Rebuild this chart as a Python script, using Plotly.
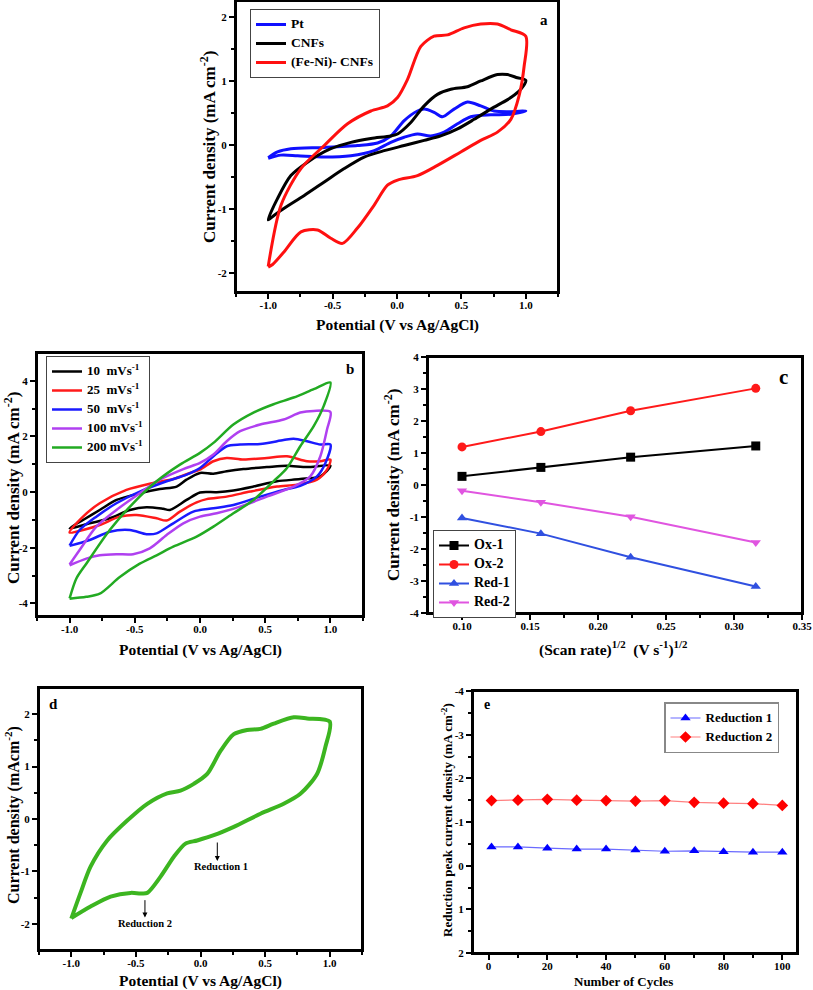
import plotly.graph_objects as go

W, H = 813, 990

# ---------------- panel a : CV of Pt, CNFs, (Fe-Ni)-CNFs ----------------
a_pt_v = [-1.0, -0.928, -0.824, -0.565, -0.307, -0.151, -0.048, 0.056, 0.159, 0.211, 0.288, 0.353, 0.443,
          0.547, 0.65, 0.754, 0.884, 1.0,
          0.884, 0.728, 0.573, 0.47, 0.366, 0.262, 0.159, 0.056, -0.048, -0.177, -0.358, -0.565, -0.772,
          -0.902, -1.0]
a_pt_j = [-0.2, -0.11, -0.06, -0.04, -0.01, 0.03, 0.14, 0.38, 0.53, 0.56, 0.51, 0.44, 0.56,
          0.67, 0.61, 0.53, 0.52, 0.53,
          0.48, 0.47, 0.44, 0.33, 0.2, 0.14, 0.17, 0.12, 0.04, -0.09, -0.17, -0.19, -0.17,
          -0.16, -0.21]
a_cnf_v = [-1.0, -0.928, -0.824, -0.695, -0.514, -0.358, -0.203, -0.048, 0.004, 0.107, 0.211, 0.314, 0.418,
           0.547, 0.65, 0.78, 0.857, 0.935, 1.0,
           0.961, 0.884, 0.728, 0.599, 0.47, 0.34, 0.211, 0.056, -0.1, -0.255, -0.41, -0.565, -0.72,
           -0.876, -0.953, -1.0]
a_cnf_j = [-1.17, -0.84, -0.48, -0.27, -0.06, 0.04, 0.1, 0.14, 0.17, 0.35, 0.61, 0.79, 0.87,
           0.91, 1.0, 1.1, 1.1, 1.05, 1.01,
           0.87, 0.74, 0.56, 0.4, 0.25, 0.14, 0.07, -0.01, -0.09, -0.19, -0.37, -0.58, -0.79,
           -0.99, -1.1, -1.17]
a_feni_v = [-1.0, -0.9, -0.746, -0.565, -0.384, -0.203, -0.074, 0.004, 0.081, 0.185, 0.288, 0.392, 0.521,
            0.65, 0.78, 0.884, 1.0,
            0.987, 0.948, 0.884, 0.78, 0.65, 0.495, 0.314, 0.159, 0.004, -0.074, -0.177, -0.307, -0.423,
            -0.514, -0.617, -0.746, -0.876, -0.966, -1.0]
a_feni_j = [-1.9, -0.94, -0.37, -0.01, 0.33, 0.53, 0.61, 0.74, 1.02, 1.54, 1.7, 1.72, 1.83,
            1.89, 1.89, 1.8, 1.7,
            1.23, 0.77, 0.4, 0.2, 0.07, -0.11, -0.32, -0.48, -0.55, -0.63, -0.94, -1.3, -1.54,
            -1.46, -1.33, -1.36, -1.67, -1.87, -1.91]
a_names = ["Pt", "CNFs", "(Fe-Ni)- CNFs"]

# ---------------- panel b : scan rates ----------------
b_names = ["10  mVs<sup>-1</sup>", "25  mVs<sup>-1</sup>", "50  mVs<sup>-1</sup>",
           "100 mVs<sup>-1</sup>", "200 mVs<sup>-1</sup>"]
b10_v = [-1.0, -0.897, -0.769, -0.64, -0.462, -0.308, -0.179, -0.103, 0.0, 0.103, 0.205, 0.333, 0.513, 0.667,
         0.821, 1.0,
         0.923, 0.769, 0.59, 0.41, 0.256, 0.128, 0.0, -0.103, -0.231, -0.282, -0.41, -0.538, -0.692, -0.846, -1.0]
b10_j = [-1.3, -1.0, -0.64, -0.28, -0.04, 0.11, 0.2, 0.45, 0.69, 0.66, 0.75, 0.83, 0.9, 0.95,
         0.9, 0.95,
         0.57, 0.47, 0.39, 0.2, 0.06, 0.0, -0.01, -0.28, -0.64, -0.6, -0.54, -0.64, -0.94, -1.12, -1.3]
b25_v = [-1.0, -0.897, -0.769, -0.564, -0.359, -0.205, -0.077, 0.0, 0.103, 0.205, 0.333, 0.513, 0.667, 0.821,
         0.923, 1.0,
         0.974, 0.897, 0.744, 0.59, 0.385, 0.205, 0.051, -0.026, -0.154, -0.256, -0.333, -0.487, -0.615,
         -0.769, -0.897, -1.0]
b25_j = [-1.45, -0.88, -0.4, 0.08, 0.33, 0.47, 0.69, 0.81, 1.11, 1.23, 1.17, 1.23, 1.29, 1.11,
         1.11, 1.17,
         0.81, 0.45, 0.27, 0.2, 0.02, -0.16, -0.25, -0.37, -0.7, -1.02, -0.94, -0.82, -0.88,
         -1.18, -1.36, -1.45]
b50_v = [-1.0, -0.923, -0.795, -0.641, -0.462, -0.256, -0.103, 0.0, 0.103, 0.205, 0.308, 0.462, 0.641, 0.718,
         0.821, 0.923, 1.0,
         0.962, 0.897, 0.769, 0.641, 0.462, 0.256, 0.103, -0.051, -0.205, -0.333, -0.41, -0.538, -0.692,
         -0.846, -1.0]
b50_j = [-1.92, -1.36, -0.88, -0.4, 0.02, 0.39, 0.63, 0.87, 1.29, 1.65, 1.71, 1.73, 1.87, 1.92,
         1.83, 1.71, 1.71,
         1.05, 0.57, 0.23, 0.08, -0.16, -0.46, -0.58, -0.7, -1.12, -1.48, -1.51, -1.36, -1.42,
         -1.72, -1.93]
b100_v = [-1.0, -0.923, -0.795, -0.641, -0.462, -0.308, -0.128, 0.0, 0.103, 0.205, 0.308, 0.462, 0.641, 0.769,
          0.872, 1.0,
          0.974, 0.923, 0.846, 0.718, 0.513, 0.308, 0.128, 0.0, -0.128, -0.256, -0.385, -0.513, -0.641,
          -0.769, -0.872, -1.0]
b100_j = [-2.6, -2.08, -1.24, -0.64, -0.04, 0.45, 0.83, 1.05, 1.35, 1.83, 2.19, 2.43, 2.61, 2.86,
          2.92, 2.88,
          2.25, 1.29, 0.57, 0.2, -0.16, -0.52, -0.76, -0.88, -1.12, -1.54, -2.02, -2.23, -2.23,
          -2.27, -2.39, -2.63]
b200_v = [-1.0, -0.949, -0.872, -0.692, -0.513, -0.333, -0.154, 0.0, 0.103, 0.256, 0.41, 0.564, 0.718,
          0.872, 1.0,
          0.949, 0.872, 0.769, 0.667, 0.564, 0.41, 0.256, 0.103, -0.026, -0.205, -0.333, -0.462, -0.615,
          -0.769, -0.872, -1.0]
b200_j = [-3.82, -3.11, -2.57, -1.36, -0.4, 0.39, 0.99, 1.41, 1.77, 2.43, 2.86, 3.16, 3.4,
          3.7, 3.94,
          3.1, 2.37, 1.65, 0.87, 0.39, -0.28, -0.76, -1.24, -1.6, -1.96, -2.27, -2.57, -3.05,
          -3.65, -3.76, -3.83]

# ---------------- panel c : peak current vs sqrt(scan rate) ----------------
c_sqrt_rate = [0.1, 0.158, 0.224, 0.316]
c_ox1 = [0.27, 0.55, 0.87, 1.22]
c_ox2 = [1.19, 1.67, 2.32, 3.02]
c_red1 = [-1.03, -1.52, -2.26, -3.17]
c_red2 = [-0.18, -0.54, -0.99, -1.8]

# ---------------- panel d : repeated cycling ----------------
d_v = [-1.0, -0.93, -0.851, -0.722, -0.567, -0.412, -0.258, -0.155, -0.052, 0.052, 0.155, 0.258, 0.361,
       0.464, 0.567, 0.722, 0.825, 1.0,
       0.966, 0.902, 0.773, 0.644, 0.464, 0.258, 0.103, -0.026, -0.116, -0.206, -0.309, -0.412, -0.464,
       -0.541, -0.696, -0.851, -1.0]
d_j = [-1.9, -1.42, -0.91, -0.41, -0.03, 0.29, 0.49, 0.54, 0.67, 0.86, 1.3, 1.62, 1.7,
       1.72, 1.82, 1.94, 1.92, 1.86,
       1.37, 0.86, 0.48, 0.29, 0.1, -0.15, -0.31, -0.41, -0.47, -0.72, -1.1, -1.41, -1.42,
       -1.41, -1.48, -1.67, -1.89]

# ---------------- panel e : peak current vs cycle number ----------------
e_cycles = [1, 10, 20, 30, 40, 50, 60, 70, 80, 90, 100]
e_red1 = [-0.43, -0.43, -0.4, -0.38, -0.38, -0.36, -0.33, -0.34, -0.32, -0.31, -0.31]
e_red2 = [-1.49, -1.5, -1.52, -1.5, -1.49, -1.48, -1.49, -1.45, -1.43, -1.42, -1.38]

pot_ticks = [-1.0, -0.5, 0.0, 0.5, 1.0]
pot_text = ["-1.0", "-0.5", "0.0", "0.5", "1.0"]

SERIF = "Liberation Serif"


def px(p):
    return min(max(p / W, 0), 1)


def py(p):
    return min(max(1 - p / H, 0), 1)


def xd(p0, p1):
    return [px(p0), px(p1)]


def yd(p0, p1):
    return [py(p1), py(p0)]


def lg(name, size):
    # legend rows stay compact (small legend font) while the label itself is drawn larger
    return f'<span style="font-size:{size}px">{name}</span>'


fig = go.Figure()


def loop(v, j, name, color, xa, ya, legend, width=3, show=True):
    fig.add_trace(go.Scatter(x=v, y=j, mode="lines", name=name, line=dict(color=color, width=width, shape="spline",
                  smoothing=0.8), xaxis=xa, yaxis=ya, legend=legend, showlegend=show))


loop(a_pt_v, a_pt_j, lg(a_names[0], 13.5), "#1010ff", "x", "y", "legend")
loop(a_cnf_v, a_cnf_j, lg(a_names[1], 13.5), "#000000", "x", "y", "legend")
loop(a_feni_v, a_feni_j, lg(a_names[2], 13.5), "#ff1010", "x", "y", "legend")

b_colors = ["#000000", "#ff1a1a", "#1a1aff", "#b040f0", "#22aa22"]
for v, j, nm, col in zip([b10_v, b25_v, b50_v, b100_v, b200_v], [b10_j, b25_j, b50_j, b100_j, b200_j],
                         b_names, b_colors):
    loop(v, j, lg(nm, 13), col, "x2", "y2", "legend2", width=2.5)

c_series = [("Ox-1", c_ox1, "#000000", "square"), ("Ox-2", c_ox2, "#ff1a1a", "circle"),
            ("Red-1", c_red1, "#3050e0", "triangle-up"), ("Red-2", c_red2, "#e055e0", "triangle-down")]
for nm, vals, col, sym in c_series:
    fig.add_trace(go.Scatter(x=c_sqrt_rate, y=vals, mode="lines+markers", name=lg(nm, 14),
                             line=dict(color=col, width=2), marker=dict(symbol=sym, size=9, color=col),
                             xaxis="x3", yaxis="y3", legend="legend3"))

loop(d_v, d_j, "cycles", "#3cb520", "x4", "y4", "legend", width=4, show=False)

fig.add_trace(go.Scatter(x=e_cycles, y=e_red1, mode="lines+markers", name=lg("Reduction 1", 13),
                         line=dict(color="#6a6aff", width=1.2),
                         marker=dict(symbol="triangle-up", size=9, color="#0000ff"),
                         xaxis="x5", yaxis="y5", legend="legend4"))
fig.add_trace(go.Scatter(x=e_cycles, y=e_red2, mode="lines+markers", name=lg("Reduction 2", 13),
                         line=dict(color="#ff8080", width=1.2),
                         marker=dict(symbol="diamond", size=9, color="#ff0000"),
                         xaxis="x5", yaxis="y5", legend="legend4"))

axis_common = dict(showgrid=False, zeroline=False, showline=True, linecolor="black", linewidth=2, mirror=True,
                   ticks="outside", ticklen=5, tickwidth=1.5, tickcolor="black", automargin=False,
                   tickfont=dict(family=SERIF, size=11, color="black", weight="bold"))


def ax(domain, rng, tv, tt, minor_vals, anchor, **kw):
    d = dict(axis_common)
    d.update(domain=domain, range=rng, tickmode="array", tickvals=tv, ticktext=tt, anchor=anchor,
             minor=dict(tickmode="array", tickvals=minor_vals, ticks="outside", ticklen=3, tickwidth=1.5,
                        tickcolor="black", showgrid=False))
    d.update(kw)
    return d


pot_minor = [-1.25, -0.75, -0.25, 0.25, 0.75, 1.25]
XS = -3  # x tick labels sit a little closer to the axis than plotly's default

fig.update_layout(
    xaxis=ax(xd(236, 558), [-1.25, 1.25], pot_ticks, pot_text, pot_minor, "y", ticklabelstandoff=XS),
    yaxis=ax(yd(1, 292), [-2.3, 2.25], [-2, -1, 0, 1, 2], ["-2", "-1", "0", "1", "2"],
             [-1.5, -0.5, 0.5, 1.5], "x"),
    xaxis2=ax(xd(37, 363), [-1.25, 1.25], pot_ticks, pot_text, pot_minor, "y2", ticklabelstandoff=XS),
    yaxis2=ax(yd(353, 616), [-4.45, 5.0], [-4, -2, 0, 2, 4], ["-4", "-2", "0", "2", "4"],
              [-3, -1, 1, 3], "x2"),
    xaxis3=ax(xd(428, 802), [0.075, 0.35], [0.1, 0.15, 0.2, 0.25, 0.3, 0.35],
              ["0.10", "0.15", "0.20", "0.25", "0.30", "0.35"],
              [0.125, 0.175, 0.225, 0.275, 0.325], "y3", ticklabelstandoff=XS),
    yaxis3=ax(yd(357, 613), [-4, 4], [-4, -3, -2, -1, 0, 1, 2, 3, 4],
              ["-4", "-3", "-2", "-1", "0", "1", "2", "3", "4"],
              [-3.5, -2.5, -1.5, -0.5, 0.5, 1.5, 2.5, 3.5], "x3"),
    xaxis4=ax(xd(39, 362), [-1.25, 1.25], pot_ticks, pot_text, pot_minor, "y4", ticklabelstandoff=XS),
    yaxis4=ax(yd(688, 950), [-2.5, 2.5], [-2, -1, 0, 1, 2], ["-2", "-1", "0", "1", "2"],
              [-1.5, -0.5, 0.5, 1.5], "x4"),
    xaxis5=ax(xd(473, 797), [-5.3, 105], [0, 20, 40, 60, 80, 100], ["0", "20", "40", "60", "80", "100"],
              [10, 30, 50, 70, 90], "y5", ticklabelstandoff=XS),
    yaxis5=ax(yd(691, 953), [2, -4], [-4, -3, -2, -1, 0, 1, 2], ["-4", "-3", "-2", "-1", "0", "1", "2"],
              [-3.5, -2.5, -1.5, -0.5, 0.5, 1.5], "x5"),
    width=W, height=H, margin=dict(l=0, r=0, t=0, b=0, autoexpand=False),
    paper_bgcolor="white", plot_bgcolor="white", showlegend=True,
    legend=dict(x=px(250), y=py(9), xanchor="left", yanchor="top", bgcolor="white", bordercolor="#444",
                borderwidth=1, font=dict(family=SERIF, size=10, color="black", weight="bold"),
                tracegroupgap=0, itemwidth=30),
    legend2=dict(x=px(46), y=py(356), xanchor="left", yanchor="top", bgcolor="white", bordercolor="#444",
                 borderwidth=1, font=dict(family=SERIF, size=10, color="black", weight="bold"),
                 tracegroupgap=0, itemwidth=30),
    legend3=dict(x=px(433), y=py(530), xanchor="left", yanchor="top", bgcolor="white", bordercolor="#444",
                 borderwidth=1, font=dict(family=SERIF, size=10, color="black", weight="bold"),
                 tracegroupgap=0, itemwidth=30),
    legend4=dict(x=px(664), y=py(702), xanchor="left", yanchor="top", bgcolor="white", bordercolor="#888",
                 borderwidth=1.5, font=dict(family=SERIF, size=10, color="black", weight="bold"),
                 tracegroupgap=0, itemwidth=30),
)

# plot frames
for sfx in ["", "2", "3", "4", "5"]:
    fig.add_shape(type="rect", xref=f"x{sfx} domain", yref=f"y{sfx} domain", x0=0, x1=1, y0=0, y1=1,
                  line=dict(color="black", width=2), layer="above")


def text(x, y, s, size, angle=0, xref="paper", yref="paper"):
    fig.add_annotation(x=x, y=y, xref=xref, yref=yref, text=s, showarrow=False, textangle=angle,
                       xanchor="center", yanchor="middle",
                       font=dict(family=SERIF, size=size, color="black", weight="bold"))


cur = "Current density (mA cm<sup>-2</sup>)"
pot = "Potential (V vs Ag/AgCl)"
# axis titles
text(px(208), py(147), cur, 17, -90)
text(px(397), py(325), pot, 15.5)
text(px(12), py(488), cur, 17, -90)
text(px(200), py(650), pot, 15.5)
text(px(392), py(485), cur, 17, -90)
text(px(613), py(648), "(Scan rate)<sup>1/2</sup>  (V s<sup>-1</sup>)<sup>1/2</sup>", 15.5)
text(px(12), py(815), "Current density (mAcm<sup>-2</sup>)", 16, -90)
text(px(200), py(981), pot, 15.5)
text(px(447), py(820), "Reduction peak current density (mA cm<sup>-2</sup>)", 13, -90)
text(px(623), py(981), "Number of Cycles", 13)

# panel letters
text(1.14, 1.95, "a", 15, xref="x", yref="y")
text(1.15, 4.42, "b", 15, xref="x2", yref="y2")
text(0.3365, 3.38, "c", 21, xref="x3", yref="y3")
text(-1.14, 2.19, "d", 15, xref="x4", yref="y4")
text(-0.5, -3.68, "e", 14, xref="x5", yref="y5")

# reduction arrows in panel d
for xv, y0, y1 in [(0.13, -0.42, -0.8), (-0.43, -1.52, -1.88)]:
    fig.add_annotation(x=xv, y=y1, ax=xv, ay=y0, xref="x4", yref="y4", axref="x4", ayref="y4", text="",
                       showarrow=True, arrowhead=2, arrowsize=1, arrowwidth=1, arrowcolor="black")
text(0.155, -0.91, "Reduction 1", 10.5, xref="x4", yref="y4")
text(-0.43, -2.0, "Reduction 2", 10.5, xref="x4", yref="y4")

# drop the browser's default 8 px body margin so the figure fills the window exactly
fig.write_html("out.html", config={"displayModeBar": False},
               post_script="document.body.style.margin='0px';")
